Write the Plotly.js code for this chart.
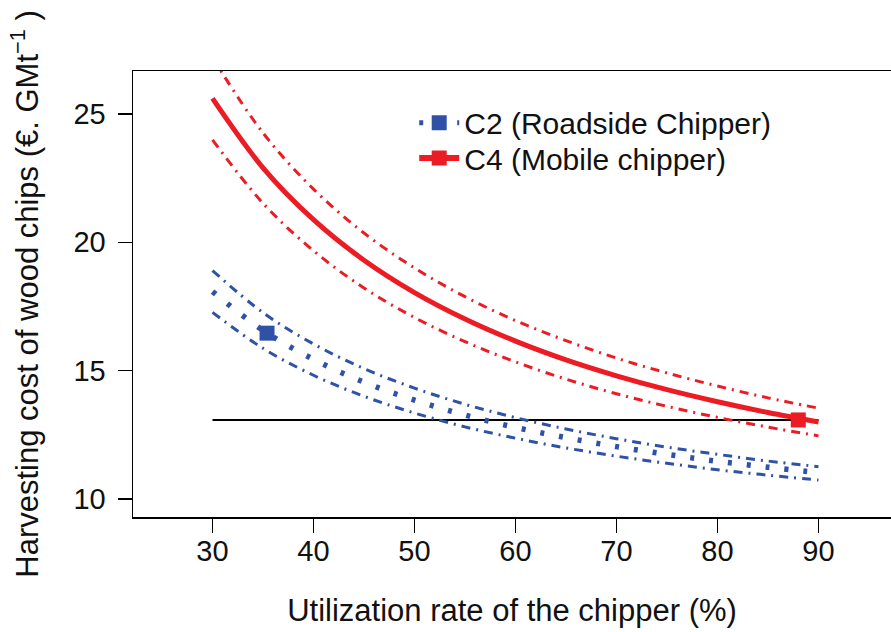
<!DOCTYPE html>
<html>
<head>
<meta charset="utf-8">
<script src="https://cdn.plot.ly/plotly-3.0.1.min.js"></script>
<style>body{margin:0;padding:0;background:#fff}#chart{width:891px;height:632px}</style>
</head>
<body>
<div id="chart"></div>
<script>
// Utilization rate (%)
const utilization = [30, 35, 40, 45, 50, 55, 60, 65, 70, 75, 80, 85, 90];
// C4 (Mobile chipper): mean and bounds
const c4Mean  = [25.60, 22.90, 20.88, 19.30, 18.04, 17.01, 16.15, 15.42, 14.80, 14.26, 13.79, 13.37, 13.00];
const c4Upper = [27.19, 24.26, 22.07, 20.36, 19.00, 17.88, 16.95, 16.17, 15.49, 14.91, 14.40, 13.94, 13.54];
const c4Lower = [23.99, 21.52, 19.67, 18.22, 17.07, 16.13, 15.34, 14.67, 14.10, 13.61, 13.18, 12.80, 12.46];
// C2 (Roadside Chipper): mean and bounds
const c2Mean  = [18.08, 16.57, 15.44, 14.55, 13.85, 13.27, 12.79, 12.39, 12.04, 11.74, 11.47, 11.24, 11.03];
const c2Upper = [18.90, 17.26, 16.04, 15.08, 14.32, 13.69, 13.17, 12.73, 12.35, 12.02, 11.74, 11.48, 11.26];
const c2Lower = [17.27, 15.87, 14.82, 14.00, 13.35, 12.81, 12.37, 11.99, 11.67, 11.39, 11.14, 10.93, 10.74];
// Reference horizontal line
const refLineX = [30, 90];
const refLineY = [13.08, 13.08];
// Observed points
const c2PointX = [35.4], c2PointY = [16.46];
const c4PointX = [88.0], c4PointY = [13.08];
const xTicks = [30, 40, 50, 60, 70, 80, 90];
const yTicks = [10, 15, 20, 25];

const BLUE = '#2F52A6', RED = '#EC1C24';
const FONT = 'Liberation Sans, Arial, sans-serif';

const traces = [
  {x: refLineX, y: refLineY, mode: 'lines', line: {color: '#000', width: 2}, showlegend: false, hoverinfo: 'skip'},
  {x: utilization, y: c2Upper, mode: 'lines', line: {color: BLUE, width: 3, dash: '9px,6px,2px,6px', shape: 'spline'}, showlegend: false},
  {x: utilization, y: c2Lower, mode: 'lines', line: {color: BLUE, width: 3, dash: '9px,6px,2px,6px', shape: 'spline'}, showlegend: false},
  {x: utilization, y: c2Mean, mode: 'lines', line: {color: BLUE, width: 5.5, dash: '4px,15px', shape: 'spline'}, showlegend: false},
  {x: utilization, y: c4Upper, mode: 'lines', line: {color: RED, width: 3, dash: '9px,6px,2px,6px', shape: 'spline'}, showlegend: false},
  {x: utilization, y: c4Lower, mode: 'lines', line: {color: RED, width: 3, dash: '9px,6px,2px,6px', shape: 'spline'}, showlegend: false},
  {x: utilization, y: c4Mean, mode: 'lines', line: {color: RED, width: 5, shape: 'spline'}, showlegend: false},
  {x: c2PointX, y: c2PointY, mode: 'lines+markers', name: 'C2 (Roadside Chipper)', legend: 'legend',
   line: {color: BLUE, width: 5, dash: '4px,15px'}, marker: {symbol: 'square', size: 15, color: BLUE}},
  {x: c4PointX, y: c4PointY, mode: 'lines+markers', name: 'C4 (Mobile chipper)', legend: 'legend2',
   line: {color: RED, width: 6}, marker: {symbol: 'square', size: 15, color: RED}}
];

const axisCommon = {
  showgrid: false, zeroline: false, showline: true, linecolor: '#000', linewidth: 1.5,
  mirror: true, ticks: 'outside', ticklen: 14, tickwidth: 1.5, tickcolor: '#000',
  tickfont: {family: FONT, size: 29, color: '#111'}
};

const legendCommon = {x: 0.371, xanchor: 'left', yanchor: 'middle', bgcolor: 'rgba(0,0,0,0)',
  font: {family: FONT, size: 30, color: '#111'}, itemwidth: 40};

const layout = {
  width: 891, height: 632,
  margin: {l: 133, r: 0, t: 71, b: 115},
  paper_bgcolor: '#fff', plot_bgcolor: '#fff',
  font: {family: FONT, color: '#111'},
  xaxis: Object.assign({}, axisCommon, {
    range: [22.13, 97.18], tickvals: xTicks, ticktext: xTicks.map(String),
    ticklabelstandoff: -6,
    title: {text: 'Utilization rate of the chipper (%)', font: {family: FONT, size: 31, color: '#111'}, standoff: 33}
  }),
  yaxis: Object.assign({}, axisCommon, {
    range: [9.30, 26.67], tickvals: yTicks, ticktext: yTicks.map(String),
    ticklabelstandoff: 6,
    title: {text: 'Harvesting cost of wood chips (€. GMt<sup>−1</sup> )', font: {family: FONT, size: 31, color: '#111'}, standoff: 25}
  }),
  legend: Object.assign({}, legendCommon, {y: 0.884}),
  legend2: Object.assign({}, legendCommon, {y: 0.805})
};

Plotly.newPlot('chart', traces, layout, {staticPlot: true, displayModeBar: false});
</script>
</body>
</html>
